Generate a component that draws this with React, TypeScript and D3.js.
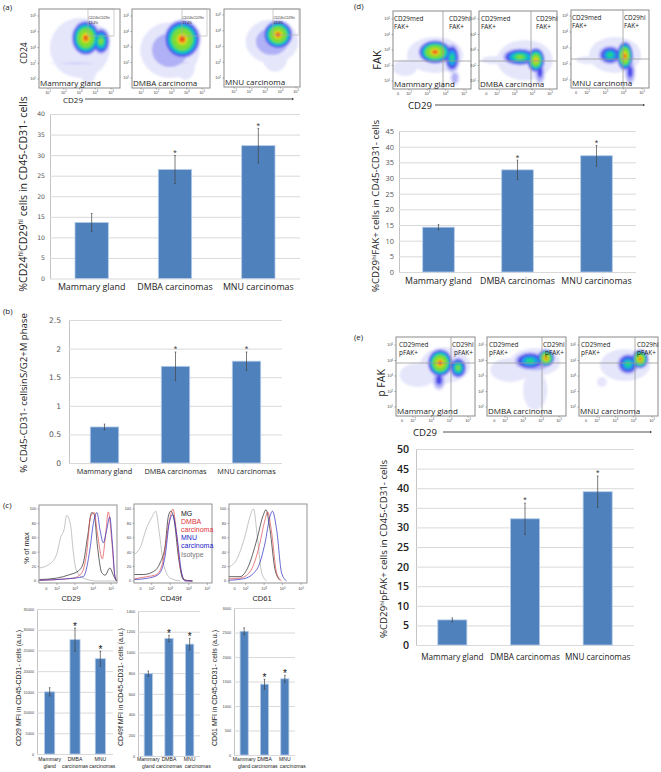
import { useEffect, useRef } from "react"
import * as d3 from "d3"

const SANS = "'Open Sans', sans-serif"
const ARIAL = "'Liberation Sans', Arial, sans-serif"
const WIDE = "'DejaVu Sans', sans-serif"

const BAR_FILL = "#4f81bd"
const BAR_EDGE = "#b3cbe8"
const GRID = "#d9d9d9"

const categories = ["Mammary gland", "DMBA carcinomas", "MNU carcinomas"]
const categoriesTwoLine = [
  ["Mammary", "gland"],
  ["DMBA", "carcinomas"],
  ["MNU", "carcinomas"],
]

// bar values and error half-heights
const valuesA = [13.6, 26.5, 32.3]
const errorsA = [2.2, 3.4, 4.2]
const ticksA = [0, 5, 10, 15, 20, 25, 30, 35, 40]

const valuesB = [0.63, 1.69, 1.78]
const errorsB = [0.05, 0.25, 0.16]
const ticksB = [0, 0.5, 1, 1.5, 2, 2.5]

const valuesC1 = [15000, 27600, 23000]
const errorsC1 = [1000, 2800, 1800]
const ticksC1 = [0, 5000, 10000, 15000, 20000, 25000, 30000, 35000]

const valuesC2 = [795, 1135, 1080]
const errorsC2 = [25, 30, 55]
const ticksC2 = [0, 200, 400, 600, 800, 1000, 1200, 1400]

const valuesC3 = [2525, 1445, 1555]
const errorsC3 = [70, 100, 70]
const ticksC3 = [0, 500, 1000, 1500, 2000, 2500, 3000]

const valuesD = [14.3, 32.6, 37.1]
const errorsD = [0.8, 3.1, 3.3]
const ticksD = [0, 5, 10, 15, 20, 25, 30, 35, 40, 45]

const valuesE = [6.4, 32.2, 39.1]
const errorsE = [0.5, 4, 4]
const ticksE = [0, 5, 10, 15, 20, 25, 30, 35, 40, 45, 50]

// histogram curves: [log10 intensity, % of max]
const cd29Iso = [[1.02, 18], [1.61, 24], [1.98, 37], [2.22, 62], [2.39, 71], [2.54, 91], [2.76, 76], [2.91, 39], [3.06, 16], [3.46, 4], [4.2, 0], [5.3, 0]]
const cd29Mg = [[1.02, 2], [1.98, 4], [2.72, 9], [3.19, 14], [3.46, 25], [3.69, 60], [3.93, 95], [4.07, 92], [4.24, 50], [4.48, 12], [4.67, 8], [4.94, 18], [5.13, 8], [5.3, 0]]
const cd29Dmba = [[1.02, 1], [2.9, 4], [3.37, 11], [3.65, 39], [3.87, 90], [4.07, 95], [4.24, 67], [4.52, 31], [4.69, 62], [4.85, 96], [5.04, 57], [5.22, 6], [5.33, 0]]
const cd29Mnu = [[1.02, 1], [2.54, 3], [3.46, 6], [3.83, 44], [4.02, 80], [4.22, 95], [4.39, 71], [4.57, 53], [4.76, 71], [4.93, 89], [5.09, 48], [5.22, 6], [5.33, 0]]

const cd49Iso = [[1.06, 37], [1.37, 46], [1.73, 74], [2, 88], [2.22, 97], [2.41, 67], [2.63, 25], [3, 4], [3.53, 0]]
const cd49Mg = [[1.06, 9], [1.55, 9], [2.09, 13], [2.45, 25], [2.72, 48], [2.9, 90], [3.03, 97], [3.21, 85], [3.44, 34], [3.71, 2], [4.2, 0]]
const cd49Dmba = [[1.06, 3], [1.73, 6], [2.27, 9], [2.63, 30], [2.9, 76], [3.15, 100], [3.32, 71], [3.53, 20], [3.8, 1], [4.2, 0]]
const cd49Mnu = [[1.06, 2], [1.82, 4], [2.36, 9], [2.72, 34], [2.95, 81], [3.13, 92], [3.35, 64], [3.62, 11], [3.8, 0], [4.2, 0]]

const cd61Iso = [[1.08, 19], [1.51, 30], [1.96, 62], [2.24, 90], [2.42, 100], [2.63, 62], [2.87, 11], [3.14, 0]]
const cd61Dmba = [[1.08, 6], [1.69, 6], [2.14, 20], [2.6, 57], [2.96, 92], [3.1, 99], [3.32, 71], [3.59, 16], [3.86, 1]]
const cd61Mnu = [[1.08, 3], [1.69, 4], [2.24, 13], [2.69, 44], [3.05, 85], [3.19, 96], [3.41, 67], [3.68, 11], [3.95, 0]]
const cd61Mg = [[1.08, 1], [1.87, 3], [2.6, 16], [3.05, 53], [3.32, 90], [3.45, 97], [3.68, 71], [3.95, 11], [4.22, 0]]

const histTicks = [100, 80, 60, 40, 20, 0]
const legendEntries = ["MG", "DMBA", "carcinoma", "MNU", "carcinoma", "Isotype"]

// density clusters on the dot plots: [x decade, y decade, rx, ry, hottest level]
const blobsA1 = [[3.03, 2.97, 1.9, 1.9, 1], [3.54, 1.89, 0.6, 1.2, 1], [2.84, 2, 1.8, 0.05, 2], [3.4, 3.6, 0.95, 1.15, 9], [4.37, 3.4, 0.6, 0.9, 6]]
const blobsA2 = [[2.9, 2.8, 1.95, 1.8, 2], [3.9, 1.84, 0.65, 0.95, 1], [3.2, 1.97, 1.6, 0.05, 2], [3.7, 3.5, 1.25, 1.3, 9]]
const blobsA3 = [[3.45, 3.32, 1.7, 1.4, 2], [3.65, 2.3, 0.8, 0.9, 1], [3.84, 3.75, 1, 0.95, 9]]
const blobsD1 = [[3.42, 2.68, 1.53, 1.16, 1], [1.78, 1.84, 0.65, 0.52, 1], [4.5, 1.2, 0.27, 0.52, 2], [4.35, 2.48, 0.45, 1, 5], [3.42, 2.87, 0.95, 0.8, 9]]
const blobsD2 = [[3.58, 2.35, 1.58, 1.3, 1], [1.9, 2.35, 0.8, 0.26, 1], [4.43, 1.58, 0.32, 0.85, 3], [3.3, 2.55, 1.05, 0.6, 6], [4.2, 2.35, 0.55, 0.85, 8]]
const blobsD3 = [[3.53, 2.56, 1.42, 1.12, 1], [2.16, 2.25, 0.76, 0.25, 1], [4.35, 1.5, 0.32, 0.85, 3], [3.26, 2.56, 0.7, 0.65, 5], [4.07, 2.5, 0.48, 0.95, 9]]
const blobsE1 = [[3.75, 3.7, 1.37, 1.16, 1], [2.27, 3.06, 1, 0.77, 1], [3.42, 2.74, 0.38, 0.7, 3], [4.46, 3.52, 0.5, 0.72, 6], [3.48, 3.84, 0.72, 0.95, 9]]
const blobsE2 = [[3.67, 3.9, 1.4, 0.9, 2], [2.28, 3.39, 1.1, 0.77, 1], [3.67, 2.1, 0.67, 1.3, 1], [3.39, 3.97, 0.95, 0.65, 5], [4.28, 4.16, 0.5, 0.6, 9]]
const blobsE3 = [[3.53, 3.71, 1.37, 1.03, 1], [2.27, 2.61, 0.27, 0.32, 1], [3.69, 3.77, 0.65, 0.75, 5], [4.35, 4.1, 0.48, 0.65, 9]]

const heatColors = ["url(#speck)", "#b0b0f6", "#4a4aea", "#14a0e8", "#1fd38a", "#7fdc30", "#e8de20", "#f28a1e", "#e2301e"]

type Seg = [string, boolean?]

const labelA: Seg[] = [["%CD24"], ["hi", true], ["CD29"], ["hi", true], [" cells  in CD45-CD31- cells"]]
const labelB: Seg[] = [["% CD45-CD31- cellsinS/G2+M phase"]]
const labelC1: Seg[] = [["CD29 MFI in CD45-CD31- cells (a.u.)"]]
const labelC2: Seg[] = [["CD49f MFI in CD45-CD31- cells (a.u.)"]]
const labelC3: Seg[] = [["CD61 MFI in CD45-CD31- cells (a.u.)"]]
const labelD: Seg[] = [["%CD29"], ["hi", true], ["FAK+ cells in CD45-CD31- cells"]]
const labelE: Seg[] = [["%CD29"], ["hi", true], ["pFAK+ cells in CD45-CD31- cells"]]

type Sel = d3.Selection<any, any, any, any>

function richText(sel: Sel, segs: Seg[], size: number) {
  segs.forEach(([t, sup], i) => {
    const span = sel.append("tspan").text(t)
    if (sup) span.attr("dy", -size * 0.35).attr("font-size", size * 0.6)
    else if (i > 0 && segs[i - 1][1]) span.attr("dy", size * 0.35)
  })
}

function drawBars(root: Sel, o: any) {
  const g = root.append("g")
  const x = d3.scaleBand<number>().domain([0, 1, 2]).range([o.left, o.right]).paddingInner(0.6).paddingOuter(0.3)
  const y = d3.scaleLinear().domain([0, o.ticks[o.ticks.length - 1]]).range([o.bottom, o.top])

  const axis = g
    .append("g")
    .attr("transform", `translate(${o.left},0)`)
    .call(d3.axisLeft(y).tickValues(o.ticks).tickSize(0).tickPadding(o.tickPad ?? 5).tickFormat((d: any) => String(d)))
  axis.select(".domain").attr("stroke", "#c4c4c4")
  axis
    .selectAll(".tick text")
    .attr("font-family", o.tickFont)
    .attr("font-size", o.tickSize)
    .attr("font-weight", o.tickWeight ?? 400)
    .attr("fill", o.tickColor ?? "#555")
  axis
    .selectAll(".tick line")
    .attr("x2", o.right - o.left)
    .attr("stroke", GRID)
    .attr("stroke-width", 1)

  g.selectAll("rect.bar")
    .data(o.values as number[])
    .join("rect")
    .attr("class", "bar")
    .attr("x", (_, i) => x(i)!)
    .attr("width", x.bandwidth())
    .attr("y", (d) => y(d))
    .attr("height", (d) => o.bottom - y(d))
    .attr("fill", BAR_FILL)
    .attr("stroke", BAR_EDGE)
    .attr("stroke-width", 0.8)

  const errG = g.append("g").attr("stroke", "#444").attr("stroke-width", o.errWidth ?? 0.7)
  ;(o.values as number[]).forEach((v, i) => {
    const cx = x(i)! + x.bandwidth() / 2
    const e = o.errors[i]
    errG.append("line").attr("x1", cx).attr("x2", cx).attr("y1", y(v - e)).attr("y2", y(v + e))
    errG.append("line").attr("x1", cx - 0.8).attr("x2", cx + 0.8).attr("y1", y(v + e)).attr("y2", y(v + e))
    errG.append("line").attr("x1", cx - 0.8).attr("x2", cx + 0.8).attr("y1", y(v - e)).attr("y2", y(v - e))
    if (o.stars.includes(i)) {
      g.append("text")
        .attr("x", cx)
        .attr("y", y(v + e) - o.starGap + o.starSize * 0.55)
        .attr("text-anchor", "middle")
        .attr("font-family", ARIAL)
        .attr("font-size", o.starSize)
        .attr("fill", o.starColor ?? "#444")
        .text("*")
    }
  })

  const names = g
    .append("g")
    .attr("font-family", o.catFont)
    .attr("font-size", o.catSize)
    .attr("fill", "#222")
    .attr("text-anchor", "middle")
  ;(o.cats as any[]).forEach((c, i) => {
    const cx = x(i)! + x.bandwidth() / 2
    const lines: string[] = Array.isArray(c) ? c : [c]
    lines.forEach((line, k) => {
      // the last category's second line sits off to the right in the figure
      const shift = i === 2 && k === 1 ? (o.lastLineShift ?? 0) : 0
      names.append("text").attr("x", cx + shift).attr("y", o.catY + k * o.catStep).text(line)
    })
  })

  const ylab = g
    .append("text")
    .attr("transform", `translate(${o.labelX},${o.labelY}) rotate(-90)`)
    .attr("text-anchor", "middle")
    .attr("font-family", o.labelFont)
    .attr("font-size", o.labelSize)
    .attr("fill", "#222")
  richText(ylab, o.label, o.labelSize)
}

function decadeLabel(g: Sel, x: number, y: number, exp: number, anchor: string) {
  const t = g
    .append("text")
    .attr("x", x)
    .attr("y", y)
    .attr("text-anchor", anchor)
    .attr("font-family", ARIAL)
    .attr("font-size", 3.8)
    .attr("fill", "#444")
    .text("10")
  t.append("tspan").attr("dy", -1.2).attr("font-size", 2.6).text(String(exp))
}

function drawDotPlot(root: Sel, o: any, id: string) {
  const g = root.append("g")
  const w = o.right - o.left
  const h = o.bottom - o.top
  const x = d3.scaleLinear().domain([o.xLo, 5]).range([o.xLoPx, o.x5Px])
  const y = d3.scaleLinear().domain([1, 5]).range([o.y1Px, o.y5Px])

  g.append("clipPath").attr("id", id).append("rect").attr("x", o.left).attr("y", o.top).attr("width", w).attr("height", h)

  const heat = g.append("g").attr("clip-path", `url(#${id})`).append("g").attr("filter", "url(#soft)")
  const blobs = o.blobs as number[][]
  heatColors.forEach((color, level) => {
    blobs.forEach(([bx, by, rx, ry, peak]) => {
      if (level >= peak) return
      // the hot core stays small, most of a cluster reads green and blue
      const f = (1 - Math.pow(level / peak, 1.35)) * (level >= 6 ? 0.65 : 1)
      heat
        .append("ellipse")
        .attr("cx", x(bx))
        .attr("cy", y(by))
        .attr("rx", (rx * (o.x5Px - o.xLoPx) * f) / (5 - o.xLo))
        .attr("ry", (ry * (o.y1Px - o.y5Px) * f) / 4)
        .attr("fill", color)
    })
  })

  g.append("rect")
    .attr("x", o.left)
    .attr("y", o.top)
    .attr("width", w)
    .attr("height", h)
    .attr("fill", "none")
    .attr("stroke", "#8a8a8a")
    .attr("stroke-width", 1)

  if (o.gate) {
    g.append("rect")
      .attr("x", o.gate[0])
      .attr("y", o.gate[1])
      .attr("width", o.gate[2] - o.gate[0])
      .attr("height", o.gate[3] - o.gate[1])
      .attr("fill", "none")
      .attr("stroke", "#aaa")
      .attr("stroke-width", 0.6)
    g.append("text").attr("x", o.gate[0] + 0.5).attr("y", o.gate[1] + 10).attr("font-family", ARIAL).attr("font-size", 3.2).attr("fill", "#333").text("CD24hiCD29hi")
    g.append("text").attr("x", o.gate[0] + 0.5).attr("y", o.gate[1] + 15).attr("font-family", ARIAL).attr("font-size", 3.4).attr("fill", "#333").text(o.gatePct)
  }

  if (o.vLine) {
    g.append("line").attr("x1", o.vLine).attr("x2", o.vLine).attr("y1", o.top).attr("y2", o.bottom).attr("stroke", "#999").attr("stroke-width", 0.8)
    g.append("line").attr("x1", o.left).attr("x2", o.right).attr("y1", o.hLine).attr("y2", o.hLine).attr("stroke", "#999").attr("stroke-width", 0.8)
    const quad = g.append("g").attr("font-family", SANS).attr("font-size", 6.4).attr("fill", "#222")
    quad.append("text").attr("x", o.medX).attr("y", o.top + 9.5).text("CD29med")
    quad.append("text").attr("x", o.medX).attr("y", o.top + 17.5).text(o.marker + "+")
    quad.append("text").attr("x", o.hiX).attr("y", o.top + 9.5).text("CD29hi")
    quad.append("text").attr("x", o.hiX2 ?? o.hiX).attr("y", o.top + 17.5).text(o.marker + "+")
  }

  g.append("text")
    .attr("x", o.left + 1)
    .attr("y", o.bottom - 2.5)
    .attr("font-family", SANS)
    .attr("font-size", 8)
    .attr("fill", "#222")
    .text(o.name)

  const tickG = g.append("g").attr("stroke", "#666").attr("stroke-width", 0.5)
  ;[1, 2, 3, 4, 5].forEach((d) => {
    decadeLabel(g, o.left - 3, y(d) + 1.3, d, "end")
    tickG.append("line").attr("x1", o.left - 1.5).attr("x2", o.left).attr("y1", y(d)).attr("y2", y(d))
  })
  ;(o.xLo === 1 ? [1, 2, 3, 4, 5] : [2, 3, 4, 5]).forEach((d) => {
    decadeLabel(g, x(d), o.bottom + 5.5, d, "middle")
    tickG.append("line").attr("x1", x(d)).attr("x2", x(d)).attr("y1", o.bottom).attr("y2", o.bottom + 1.5)
  })
  if (o.xLo !== 1) {
    g.append("text")
      .attr("x", x(1.4))
      .attr("y", o.bottom + 5.5)
      .attr("text-anchor", "middle")
      .attr("font-family", ARIAL)
      .attr("font-size", 3.8)
      .attr("fill", "#444")
      .text("0")
  }
}

function drawHistogram(root: Sel, o: any) {
  const g = root.append("g")
  const x = d3.scaleLinear().domain([2, 5]).range([o.x2Px, o.x5Px])
  const y = d3.scaleLinear().domain([0, 100]).range([581, 509])
  const line = d3
    .line<number[]>()
    .x((d) => x(d[0]))
    .y((d) => y(d[1]))
    .curve(d3.curveMonotoneX)

  const colors = ["#aaa", "#222", "#e0484e", "#2a2ac0"]
  ;(o.curves as number[][][]).forEach((c, i) => {
    g.append("path").attr("d", line(c)).attr("fill", "none").attr("stroke", colors[i]).attr("stroke-width", 0.7)
  })

  g.append("rect")
    .attr("x", o.left)
    .attr("y", o.top)
    .attr("width", o.right - o.left)
    .attr("height", 583 - o.top)
    .attr("fill", "none")
    .attr("stroke", "#888")
    .attr("stroke-width", 0.9)

  histTicks.forEach((t) => {
    g.append("text")
      .attr("x", o.left - 3)
      .attr("y", y(t) + 1.3)
      .attr("text-anchor", "end")
      .attr("font-family", ARIAL)
      .attr("font-size", 3.8)
      .attr("fill", "#444")
      .text(t)
    g.append("line").attr("x1", o.left - 1.5).attr("x2", o.left).attr("y1", y(t)).attr("y2", y(t)).attr("stroke", "#666").attr("stroke-width", 0.5)
  })
  ;[2, 3, 4, 5].forEach((d) => {
    decadeLabel(g, x(d), 590, d, "middle")
    g.append("line").attr("x1", x(d)).attr("x2", x(d)).attr("y1", 583).attr("y2", 585).attr("stroke", "#666").attr("stroke-width", 0.5)
  })
  g.append("text").attr("x", x(1.4)).attr("y", 590).attr("text-anchor", "middle").attr("font-family", ARIAL).attr("font-size", 3.8).attr("fill", "#444").text("0")

  g.append("text")
    .attr("x", o.nameX)
    .attr("y", 600.5)
    .attr("text-anchor", "middle")
    .attr("font-family", ARIAL)
    .attr("font-size", 7.5)
    .attr("fill", "#222")
    .text(o.name)
}

function drawArrow(root: Sel, textX: number, x1: number, x2: number, y: number, size: number) {
  root
    .append("text")
    .attr("x", textX)
    .attr("y", y + 3.5)
    .attr("font-family", SANS)
    .attr("font-size", size)
    .attr("fill", "#222")
    .text("CD29")
  root.append("line").attr("x1", x1).attr("x2", x2).attr("y1", y).attr("y2", y).attr("stroke", "#555").attr("stroke-width", 1)
  root
    .append("path")
    .attr("d", d3.line()([[x2, y - 1.3], [x2 + 2, y], [x2, y + 1.3]]))
    .attr("fill", "#333")
}

function rotatedLabel(root: Sel, text: string, x: number, y: number, size: number, font = SANS) {
  root
    .append("text")
    .attr("transform", `translate(${x},${y}) rotate(-90)`)
    .attr("text-anchor", "middle")
    .attr("font-family", font)
    .attr("font-size", size)
    .attr("fill", "#222")
    .text(text)
}

function panelLetter(root: Sel, text: string, x: number, y: number) {
  root.append("text").attr("x", x).attr("y", y).attr("font-family", SANS).attr("font-size", 8).attr("fill", "#222").text(text)
}

export default function App() {
  const svgRef = useRef<SVGSVGElement | null>(null)

  useEffect(() => {
    if (!svgRef.current) return
    const svg = d3.select(svgRef.current)
    svg.selectAll("*").remove()

    const defs = svg.append("defs")
    defs
      .append("filter")
      .attr("id", "soft")
      .attr("x", "-10%")
      .attr("y", "-10%")
      .attr("width", "120%")
      .attr("height", "120%")
      .append("feGaussianBlur")
      .attr("stdDeviation", 1)
    const speck = defs.append("pattern").attr("id", "speck").attr("width", 3).attr("height", 3).attr("patternUnits", "userSpaceOnUse")
    speck.append("rect").attr("width", 3).attr("height", 3).attr("fill", "#eeeefd")
    speck.append("circle").attr("cx", 0.8).attr("cy", 0.8).attr("r", 0.6).attr("fill", "#b4b4f4")
    speck.append("circle").attr("cx", 2.3).attr("cy", 2.1).attr("r", 0.45).attr("fill", "#c4c4f6")

    // panel (a)
    panelLetter(svg, "(a)", 3, 10)
    const baseA = { top: 9, bottom: 88, xLo: 1, vLine: 0 }
    drawDotPlot(svg, { ...baseA, left: 39, right: 120, xLoPx: 48, x5Px: 111, y1Px: 79, y5Px: 16, blobs: blobsA1, name: "Mammary gland", gate: [88, 9, 114, 36], gatePct: "13.4%" }, "clipA1")
    drawDotPlot(svg, { ...baseA, left: 132, right: 210, xLoPx: 141, x5Px: 202, y1Px: 78, y5Px: 16, blobs: blobsA2, name: "DMBA carcinoma", gate: [182, 9, 207, 36], gatePct: "27.4%" }, "clipA2")
    drawDotPlot(svg, { ...baseA, left: 224, right: 300, bottom: 87, xLoPx: 234, x5Px: 296, y1Px: 78, y5Px: 15, blobs: blobsA3, name: "MNU carcinoma", gate: [273, 9, 299, 35], gatePct: "33.8%" }, "clipA3")
    rotatedLabel(svg, "CD24", 27, 53, 8.5)
    drawArrow(svg, 63, 85, 292, 99, 8)

    drawBars(svg, {
      left: 50, right: 300, top: 114, bottom: 278.5, values: valuesA, errors: errorsA, ticks: ticksA, stars: [1, 2],
      tickFont: WIDE, tickSize: 6.2, catFont: SANS, catSize: 8.9, catY: 290, catStep: 0, cats: categories,
      label: labelA, labelX: 27, labelY: 194, labelFont: SANS, labelSize: 10.6, starGap: 4, starSize: 9,
    })

    // panel (b)
    panelLetter(svg, "(b)", 3, 314)
    drawBars(svg, {
      left: 69, right: 282, top: 320, bottom: 463, values: valuesB, errors: errorsB, ticks: ticksB, stars: [1, 2],
      tickFont: WIDE, tickSize: 7.6, catFont: SANS, catSize: 7.3, catY: 474, catStep: 0, cats: categories, tickPad: 8,
      label: labelB, labelX: 27, labelY: 393, labelFont: SANS, labelSize: 9.6, starGap: 5, starSize: 9,
    })

    // panel (c)
    panelLetter(svg, "(c)", 3, 508)
    drawHistogram(svg, { left: 39, right: 117, top: 505, x2Px: 57, x5Px: 111, curves: [cd29Iso, cd29Mg, cd29Dmba, cd29Mnu], name: "CD29", nameX: 71 })
    drawHistogram(svg, { left: 134, right: 212, top: 504, x2Px: 151.7, x5Px: 207.3, curves: [cd49Iso, cd49Mg, cd49Dmba, cd49Mnu], name: "CD49f", nameX: 171 })
    drawHistogram(svg, { left: 229, right: 307, top: 504, x2Px: 245.7, x5Px: 301, curves: [cd61Iso, cd61Dmba, cd61Mnu, cd61Mg], name: "CD61", nameX: 262 })
    rotatedLabel(svg, "% of max", 29, 548, 7.5, ARIAL)

    const legendColors = ["#111", "#e0343a", "#e0343a", "#2222c8", "#2222c8", "#777"]
    legendEntries.forEach((t, i) => {
      svg
        .append("text")
        .attr("x", 181)
        .attr("y", 515.5 + i * 8.2)
        .attr("font-family", ARIAL)
        .attr("font-size", 7)
        .attr("fill", legendColors[i])
        .text(t)
    })

    const smallBars = {
      stars: [1, 2], tickFont: ARIAL, tickSize: 3.8, catFont: ARIAL, catSize: 5.1, catY: 760.5, catStep: 7, cats: categoriesTwoLine,
      labelFont: ARIAL, labelSize: 7, starGap: 3.5, starSize: 10, starColor: "#111", tickPad: 3, tickColor: "#444",
    }
    drawBars(svg, { ...smallBars, left: 37, right: 113, top: 609, bottom: 754, values: valuesC1, errors: errorsC1, ticks: ticksC1, label: labelC1, labelX: 21, labelY: 688, lastLineShift: 2 })
    drawBars(svg, { ...smallBars, left: 138, right: 200, top: 611, bottom: 756, values: valuesC2, errors: errorsC2, ticks: ticksC2, label: labelC2, labelX: 123, labelY: 687, lastLineShift: 8 })
    drawBars(svg, { ...smallBars, left: 234, right: 295, top: 608, bottom: 755, values: valuesC3, errors: errorsC3, ticks: ticksC3, label: labelC3, labelX: 217, labelY: 688, lastLineShift: 8 })

    // panel (d)
    panelLetter(svg, "(d)", 354, 9)
    const baseD = { xLo: 2, marker: "FAK" }
    drawDotPlot(svg, { ...baseD, left: 393, right: 471, top: 11, bottom: 89, xLoPx: 409, x5Px: 464, y1Px: 81, y5Px: 19, blobs: blobsD1, name: "Mammary gland", vLine: 443, hLine: 61, medX: 394, hiX: 449 }, "clipD1")
    drawDotPlot(svg, { ...baseD, left: 479, right: 557, top: 11, bottom: 89, xLoPx: 497, x5Px: 550, y1Px: 81, y5Px: 19, blobs: blobsD2, name: "DMBA carcinoma", vLine: 531, hLine: 61, medX: 481, hiX: 536 }, "clipD2")
    drawDotPlot(svg, { ...baseD, left: 571, right: 649, top: 10, bottom: 88, xLoPx: 587, x5Px: 642, y1Px: 80, y5Px: 16, blobs: blobsD3, name: "MNU carcinoma", vLine: 623, hLine: 59, medX: 572, hiX: 624 }, "clipD3")
    rotatedLabel(svg, "FAK", 381, 60, 11)
    drawArrow(svg, 408, 435, 643, 105, 9.6)

    drawBars(svg, {
      left: 399, right: 636, top: 131, bottom: 272, values: valuesD, errors: errorsD, ticks: ticksD, stars: [1, 2],
      tickFont: SANS, tickSize: 7.4, catFont: SANS, catSize: 8.8, catY: 284, catStep: 0, cats: categories,
      label: labelD, labelX: 379, labelY: 206, labelFont: SANS, labelSize: 9.7, starGap: 4, starSize: 9,
    })

    // panel (e)
    panelLetter(svg, "(e)", 354, 340)
    const baseE = { xLo: 2, marker: "pFAK", top: 337, bottom: 416, y1Px: 407, y5Px: 345, hLine: 363 }
    drawDotPlot(svg, { ...baseE, left: 396, right: 475, xLoPx: 413, x5Px: 468, blobs: blobsE1, name: "Mammary gland", vLine: 451, medX: 399, hiX: 452, hiX2: 454 }, "clipE1")
    drawDotPlot(svg, { ...baseE, left: 487, right: 566, xLoPx: 505, x5Px: 559, blobs: blobsE2, name: "DMBA carcinoma", vLine: 542, medX: 489, hiX: 543, hiX2: 545 }, "clipE2")
    drawDotPlot(svg, { ...baseE, left: 579, right: 658, xLoPx: 597, x5Px: 652, blobs: blobsE3, name: "MNU carcinoma", vLine: 635, medX: 581, hiX: 637 }, "clipE3")
    rotatedLabel(svg, "p FAK", 385, 383, 10.5)
    drawArrow(svg, 413, 443, 650, 432, 9.6)

    drawBars(svg, {
      left: 416, right: 634, top: 449, bottom: 645, values: valuesE, errors: errorsE, ticks: ticksE, stars: [1, 2], tickColor: "#222", tickWeight: 600,
      tickFont: SANS, tickSize: 10.6, catFont: SANS, catSize: 8.2, catY: 660, catStep: 0, cats: categories, tickPad: 7,
      label: labelE, labelX: 387, labelY: 549, labelFont: SANS, labelSize: 9.7, starGap: 5, starSize: 9,
    })
  }, [])

  return <svg ref={svgRef} width={661} height={772} style={{ position: "absolute", left: 0, top: 0, background: "#fff" }}></svg>
}
